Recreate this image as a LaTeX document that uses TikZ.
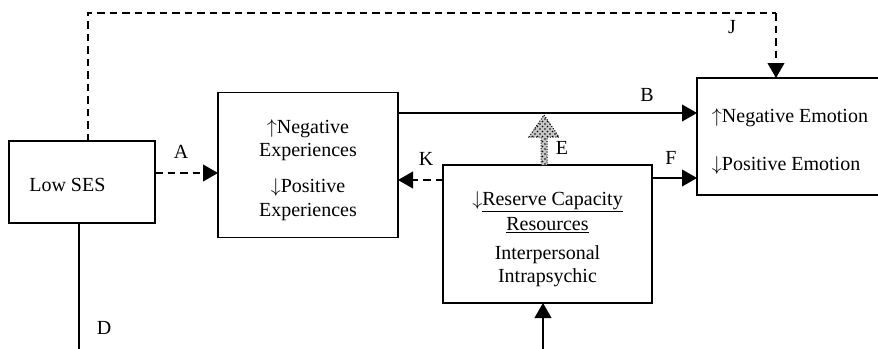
\documentclass[tikz,border=0pt]{standalone}
\usepackage{fontspec}
\setmainfont{Liberation Serif}
\usetikzlibrary{arrows.meta,patterns}
\begin{document}
\begin{tikzpicture}[x=0.6pt,y=-0.6pt,
  font=\fontsize{12}{14}\selectfont,
  boxline/.style={draw,line width=1pt,inner sep=0pt,outer sep=0pt},
  conn/.style={line width=1.2pt},
  dsh/.style={conn,dash pattern=on 4.5pt off 3pt},
  tip/.style={-{Triangle[length=9pt,width=10pt]}},
  lbl/.style={inner sep=0pt}]
\useasboundingbox (0,0) rectangle (878,349);
% boxes
\node[boxline,minimum width=87.6pt,minimum height=49.2pt] (ses) at (82,182) {};
\node[lbl,anchor=base west] (sestext) at (29,191) {Low SES};
\node[boxline,minimum width=108pt,minimum height=87pt] (neg) at (308,165) {};
\node[lbl,align=center] (negtext) at (308,170)
  {$\uparrow$Negative\\Experiences\\[7.6pt]$\downarrow$Positive\\Experiences};
\node[boxline,minimum width=125.4pt,minimum height=82.8pt] (res) at (547.5,234) {};
\node[lbl,align=center] (restext) at (547.5,239)
  {$\downarrow$\underline{Reserve Capacity}\\[1pt]\underline{Resources}\\[3.4pt]Interpersonal\\Intrapsychic};
\node[boxline,minimum width=109.8pt,minimum height=70.2pt] (emo) at (788.5,136.5) {};
\node[lbl,align=left] (emotext) at (790,141.5)
  {$\uparrow$Negative Emotion\\[14.8pt]$\downarrow$Positive Emotion};
% coordinates
\coordinate (jl) at (88,13);
\coordinate (jr) at (776,13);
\coordinate (dbot) at (79,349);
\coordinate (rbot) at (543,349);
% A
\draw[dsh,tip] (ses.east |- 0,173) -- (neg.west |- 0,173);
\node[lbl] (la) at (181,152) {A};
% J
\draw[dsh] (ses.north -| jl) -- (jl) -- (jr);
\draw[dsh,tip] (jr) -- (emo.north -| jr);
\node[lbl] (lj) at (732,27) {J};
% B
\draw[conn,tip] (neg.east |- 0,113) -- (emo.west |- 0,113);
\node[lbl] (lb) at (647,95) {B};
% K
\draw[dsh,tip] (res.west |- 0,180) -- (neg.east |- 0,180);
\node[lbl] (lk) at (426,159) {K};
% F
\draw[conn,tip] (res.east |- 0,178) -- (emo.west |- 0,178);
\node[lbl] (lf) at (671,158) {F};
% E
\fill[gray!45] (541,165) -- (541,137) -- (529,137) -- (544,115) -- (559,137) -- (547,137) -- (547,165) -- cycle;
\fill[pattern=crosshatch dots] (541,165) -- (541,137) -- (529,137) -- (544,115) -- (559,137) -- (547,137) -- (547,165) -- cycle;
\draw[densely dotted,line width=0.6pt] (541,165) -- (541,137) -- (529,137) -- (544,115) -- (559,137) -- (547,137) -- (547,165);
\node[lbl] (le) at (562,148) {E};
% D
\draw[conn] (ses.south -| dbot) -- (dbot);
\node[lbl] (ld) at (104,328) {D};
% bottom arrow
\draw[conn,tip] (rbot) -- (res.south -| rbot);
\end{tikzpicture}
\end{document}
